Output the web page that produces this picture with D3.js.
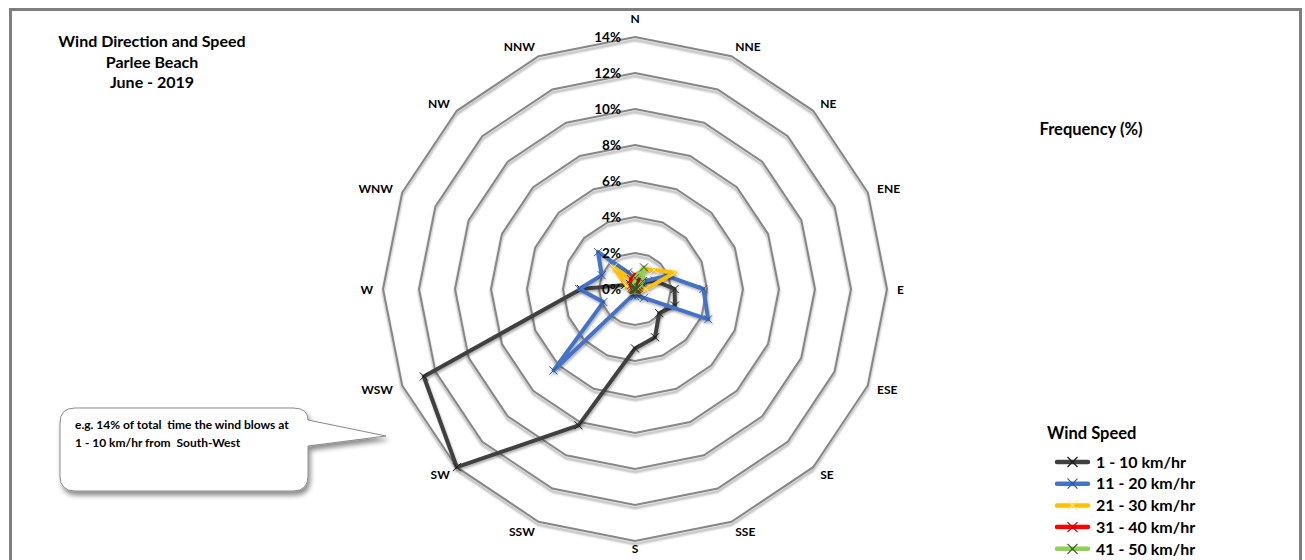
<!DOCTYPE html>
<html>
<head>
<meta charset="utf-8">
<script src="https://cdnjs.cloudflare.com/ajax/libs/d3/7.8.5/d3.min.js"></script>
<style>
  html, body { margin: 0; padding: 0; background: #fff; }
  svg { display: block; font-family: Lato, "Open Sans", "Liberation Sans", sans-serif; }
  text { font-weight: 700; fill: #000; }
</style>
</head>
<body>
<svg id="chart" width="1305" height="560"></svg>
<script>
// Compass directions, clockwise from north
const directions = ["N", "NNE", "NE", "ENE", "E", "ESE", "SE", "SSE",
                    "S", "SSW", "SW", "WSW", "W", "WNW", "NW", "NNW"];

// Frequency (%) of time per direction, one array per wind-speed class
const speed1to10  = [0.3, 0.3, 0.5, 1.2, 2.2, 2.4, 1.9, 2.9, 3.3, 8.2, 14.0, 12.7, 3.0, 0.6, 0.4, 0.3];
const speed11to20 = [0.5, 0.5, 0.6, 1.9, 3.8, 4.4, 0.7, 0.4, 0.4, 0.4, 6.4, 1.9, 3.1, 2.0, 2.9, 1.0];
const speed21to30 = [0.6, 1.2, 1.5, 2.4, 0.6, 0.2, 0.1, 0.1, 0.1, 0.1, 0.1, 0.2, 0.3, 0.5, 1.7, 0.6];
const speed31to40 = [0.8, 0.5, 0.3, 0.2, 0.1, 0.05, 0.05, 0.05, 0.05, 0.05, 0.05, 0.05, 0.1, 0.2, 0.3, 0.6];
const speed41to50 = [0.6, 1.3, 0.6, 0.2, 0.05, 0.05, 0.05, 0.05, 0.05, 0.05, 0.05, 0.05, 0.05, 0.05, 0.1, 0.2];

const seriesNames = ["1 - 10 km/hr", "11 - 20 km/hr", "21 - 30 km/hr", "31 - 40 km/hr", "41 - 50 km/hr"];
const seriesValues = [speed1to10, speed11to20, speed21to30, speed31to40, speed41to50];
const lineColors   = ["#404040", "#4472C4", "#FFC000", "#FF0000", "#92D050"];
const markerColors = ["#1a1a1a", "#2F5597", "#FFE699", "#C00000", "#375623"];

// Radial axis ticks
const tickValues = [0, 2, 4, 6, 8, 10, 12, 14];
const tickLabels = ["0%", "2%", "4%", "6%", "8%", "10%", "12%", "14%"];

const titleLines = ["Wind Direction and Speed", "Parlee Beach", "June - 2019"];
const calloutLines = ["e.g. 14% of total  time the wind blows at", "1 - 10 km/hr from  South-West"];

const svg = d3.select("#chart");
const cx = 635, cy = 289;

const defs = svg.append("defs");
defs.append("filter").attr("id", "ringShadow")
  .attr("x", "-10%").attr("y", "-10%").attr("width", "120%").attr("height", "120%")
  .append("feDropShadow").attr("dx", 0).attr("dy", 3).attr("stdDeviation", 1.3)
  .attr("flood-color", "#000").attr("flood-opacity", 0.35);
defs.append("filter").attr("id", "lineShadow")
  .attr("x", "-20%").attr("y", "-20%").attr("width", "140%").attr("height", "140%")
  .append("feDropShadow").attr("dx", 1).attr("dy", 2).attr("stdDeviation", 1)
  .attr("flood-color", "#000").attr("flood-opacity", 0.3);
defs.append("filter").attr("id", "boxShadow")
  .attr("x", "-10%").attr("y", "-10%").attr("width", "130%").attr("height", "130%")
  .append("feDropShadow").attr("dx", 2).attr("dy", 4).attr("stdDeviation", 2.5)
  .attr("flood-color", "#000").attr("flood-opacity", 0.45);

// Outer frame
svg.append("rect")
  .attr("x", 10.5).attr("y", 9.5).attr("width", 1290).attr("height", 640)
  .attr("fill", "none").attr("stroke", "#7f7f7f").attr("stroke-width", 3);

// Scales
const r = d3.scaleLinear().domain([0, 14]).range([0, 252]);
const angle = d3.scaleBand().domain(directions).range([0, 2 * Math.PI]).align(0).paddingInner(0).paddingOuter(0);
const a = d => angle(d);

const plot = svg.append("g").attr("transform", `translate(${cx},${cy})`);

// Grid rings (16-sided polygons)
const ringLine = d3.lineRadial()
  .angle(d => a(d))
  .curve(d3.curveLinearClosed);

plot.append("g").attr("filter", "url(#ringShadow)")
  .selectAll("path")
  .data(tickValues.filter(t => t > 0))
  .join("path")
  .attr("d", t => ringLine.radius(() => r(t))(directions))
  .attr("fill", "none")
  .attr("stroke", "#868686")
  .attr("stroke-width", 2);

// Direction labels: anchored just outside the outer ring, text extending away from the centre
const labelR = 262;
plot.append("g").selectAll("text")
  .data(directions)
  .join("text")
  .attr("x", d => Math.sin(a(d)) * labelR)
  .attr("y", d => {
    const y = -Math.cos(a(d)) * labelR;
    if (d === "N") return y - 9;
    if (d === "S") return y - 3;
    return y;
  })
  .attr("text-anchor", d => {
    const s = Math.sin(a(d));
    return s > 0.01 ? "start" : (s < -0.01 ? "end" : "middle");
  })
  .attr("dominant-baseline", "central")
  .attr("font-size", 12)
  .text(d => d);

// Series lines
const seriesLine = d3.lineRadial()
  .angle((d, i) => a(directions[i]))
  .radius(d => r(d))
  .curve(d3.curveLinearClosed);

seriesValues.forEach((vals, k) => {
  const g = plot.append("g").attr("filter", "url(#lineShadow)");
  g.append("path")
    .attr("d", seriesLine(vals))
    .attr("fill", "none")
    .attr("stroke", lineColors[k])
    .attr("stroke-width", 4)
    .attr("stroke-linejoin", "round");
  g.selectAll("path.mk")
    .data(vals)
    .join("path")
    .attr("class", "mk")
    .attr("transform", (d, i) => `translate(${Math.sin(a(directions[i])) * r(d)},${-Math.cos(a(directions[i])) * r(d)})`)
    .attr("d", "M-4,-4L4,4M-4,4L4,-4")
    .attr("stroke", markerColors[k])
    .attr("stroke-width", 1);
});

// Radial tick labels
plot.append("g").selectAll("text")
  .data(tickValues)
  .join("text")
  .attr("x", -14)
  .attr("y", t => -r(t))
  .attr("dy", "0.35em")
  .attr("text-anchor", "end")
  .attr("font-size", 13.5)
  .text((t, i) => tickLabels[i]);

// Title
svg.append("g").selectAll("text")
  .data(titleLines)
  .join("text")
  .attr("x", 152)
  .attr("y", (d, i) => 47 + i * 20.5)
  .attr("text-anchor", "middle")
  .attr("font-size", 16)
  .text(d => d);

svg.append("text")
  .attr("x", 1091).attr("y", 135)
  .attr("text-anchor", "middle")
  .attr("font-size", 16.5)
  .text("Frequency (%)");

// Legend
const legend = svg.append("g");
legend.append("text").attr("x", 1047).attr("y", 439).attr("font-size", 16.5).text("Wind Speed");
const items = legend.selectAll("g.item")
  .data(seriesNames)
  .join("g")
  .attr("class", "item")
  .attr("transform", (d, i) => `translate(0,${462 + i * 21.7})`);
items.append("line")
  .attr("x1", 1057).attr("x2", 1088)
  .attr("stroke", (d, i) => lineColors[i])
  .attr("stroke-width", 4.5)
  .attr("stroke-linecap", "round");
items.append("path")
  .attr("transform", "translate(1072.5,0)")
  .attr("d", "M-5,-5L5,5M-5,5L5,-5")
  .attr("stroke", (d, i) => markerColors[i])
  .attr("stroke-width", 1.2);
items.append("text")
  .attr("x", 1096).attr("dy", "0.36em")
  .attr("font-size", 16)
  .text(d => d);

// Callout
const callout = svg.append("g");
callout.append("path")
  .attr("d", "M75,408 H293 Q308,408 308,420 L386,436 L308,446 V476 Q308,491 293,491 H75 Q60,491 60,476 V423 Q60,408 75,408 Z")
  .attr("fill", "#fff")
  .attr("stroke", "#8a8a8a")
  .attr("stroke-width", 1)
  .attr("filter", "url(#boxShadow)");
callout.selectAll("text")
  .data(calloutLines)
  .join("text")
  .attr("x", 75)
  .attr("y", (d, i) => 429 + i * 18)
  .attr("font-size", 12)
  .attr("xml:space", "preserve")
  .style("white-space", "pre")
  .text(d => d);
</script>
</body>
</html>
